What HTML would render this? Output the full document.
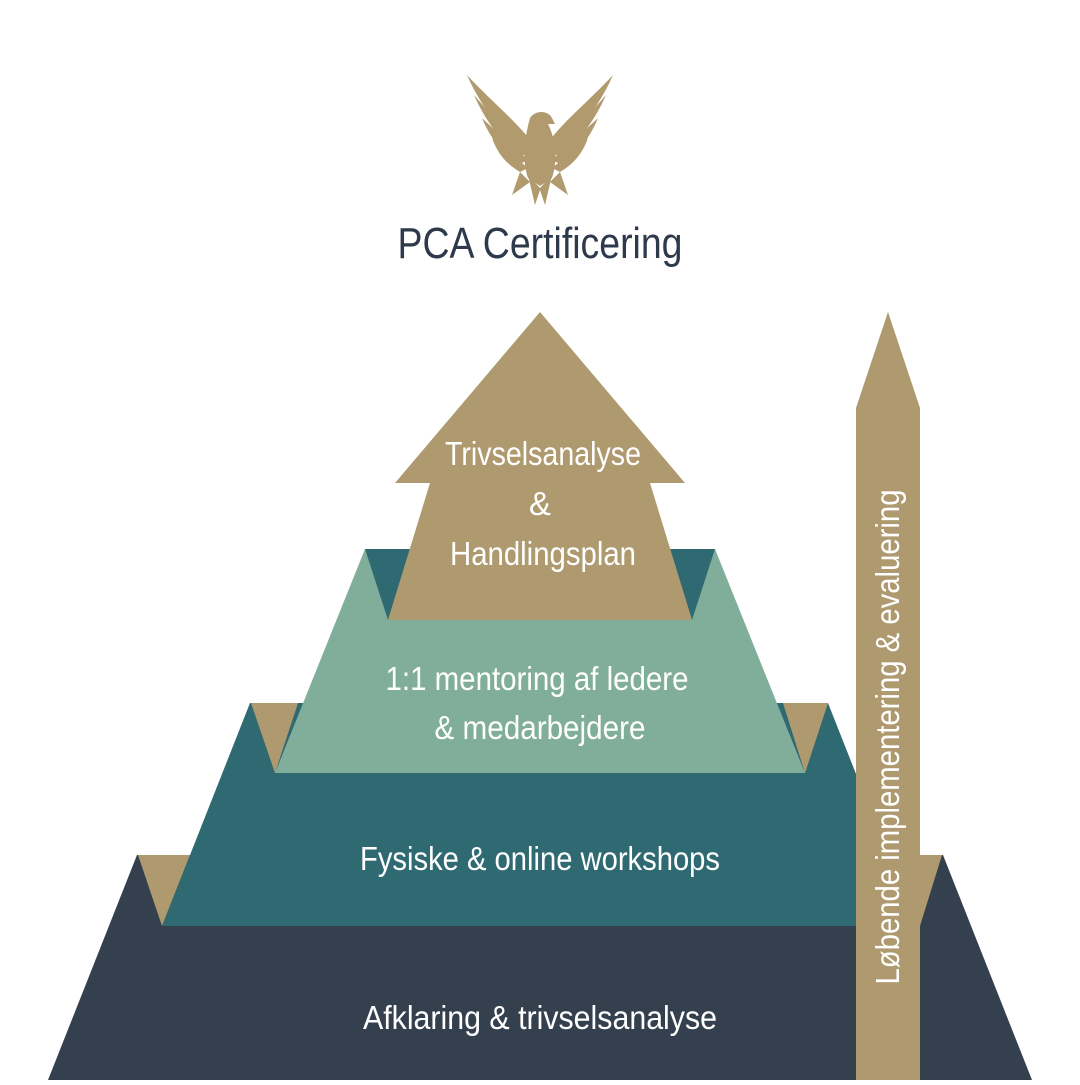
<!DOCTYPE html>
<html><head><meta charset="utf-8"><style>
html,body{margin:0;padding:0;background:#fff}
.t{font-family:"Liberation Sans",sans-serif;fill:#fff;text-anchor:middle}
</style></head><body>
<svg width="1080" height="1080" viewBox="0 0 1080 1080" xmlns="http://www.w3.org/2000/svg">
<!-- eagle -->
<g fill="#b09a6e">
<path d="M467,75 C490,100 515,120 530,140 L522,150 C500,130 480,105 467,75Z"/>
<path d="M474,95 C495,120 515,135 530,150 L520,158 C500,140 485,120 474,95Z"/>
<path d="M482,118 C500,135 515,148 528,160 L518,165 C502,152 490,138 482,118Z"/>
<path d="M492,138 C505,150 518,160 528,168 L520,172 C508,165 498,155 492,138Z"/>
<path d="M613,75 C590,100 565,120 550,140 L558,150 C580,130 600,105 613,75Z"/>
<path d="M606,95 C585,120 565,135 550,150 L560,158 C580,140 595,120 606,95Z"/>
<path d="M598,118 C580,135 565,148 552,160 L562,165 C578,152 590,138 598,118Z"/>
<path d="M588,138 C575,150 562,160 552,168 L560,172 C572,165 582,155 588,138Z"/>
<path d="M530,118 C535,110 548,110 552,118 L555,124 L548,124 C556,140 558,160 552,178 L540,186 L528,178 C522,160 524,140 530,118Z"/>
<path d="M528,175 L535,205 L540,190 L545,205 L552,175 L540,188Z"/>
<path d="M520,172 L512,195 L530,182Z"/>
<path d="M560,172 L568,195 L550,182Z"/>
</g>
<text x="540" y="258" font-family="Liberation Sans, sans-serif" font-size="44" fill="#2e3a4c" text-anchor="middle" textLength="285" lengthAdjust="spacingAndGlyphs">PCA Certificering</text>
<!-- navy -->
<polygon points="137,855 943,855 1032,1080 48,1080" fill="#35404f"/>
<polygon points="138,855 190,855 162,926" fill="#ae9a6e"/>
<polygon points="892,855 942,855 920,926" fill="#ae9a6e"/>
<!-- teal -->
<polygon points="250,703 828,703 916,926 162,926" fill="#2f6a72"/>
<polygon points="251,703 298,703 275,773" fill="#ae9a6e"/>
<polygon points="783,703 828,703 805,773" fill="#ae9a6e"/>
<!-- sage -->
<polygon points="365,549 715,549 805,773 275,773" fill="#80ae9a"/>
<polygon points="365,549 410,549 388,620" fill="#2f6a72"/>
<polygon points="670,549 715,549 692,620" fill="#2f6a72"/>
<!-- tan top arrow -->
<polygon points="540,312 685,483 650,483 692,620 388,620 430,483 395,483" fill="#ae9a6e"/>
<!-- column -->
<polygon points="888,312 920,408 920,1080 856,1080 856,408" fill="#ae9a6e"/>
<text class="t" font-size="33" transform="translate(899,737) rotate(-90)" textLength="495" lengthAdjust="spacingAndGlyphs">Løbende implementering &amp; evaluering</text>
<text class="t" x="543" y="465" font-size="33" textLength="196" lengthAdjust="spacingAndGlyphs">Trivselsanalyse</text>
<text class="t" x="540" y="515" font-size="33">&amp;</text>
<text class="t" x="543" y="565" font-size="33" textLength="186" lengthAdjust="spacingAndGlyphs">Handlingsplan</text>
<text class="t" x="537" y="690" font-size="33" textLength="303" lengthAdjust="spacingAndGlyphs">1:1 mentoring af ledere</text>
<text class="t" x="540" y="739" font-size="33" textLength="211" lengthAdjust="spacingAndGlyphs">&amp; medarbejdere</text>
<text class="t" x="540" y="870" font-size="33" textLength="360" lengthAdjust="spacingAndGlyphs">Fysiske &amp; online workshops</text>
<text class="t" x="540" y="1029" font-size="33" textLength="354" lengthAdjust="spacingAndGlyphs">Afklaring &amp; trivselsanalyse</text>
</svg>
</body></html>
